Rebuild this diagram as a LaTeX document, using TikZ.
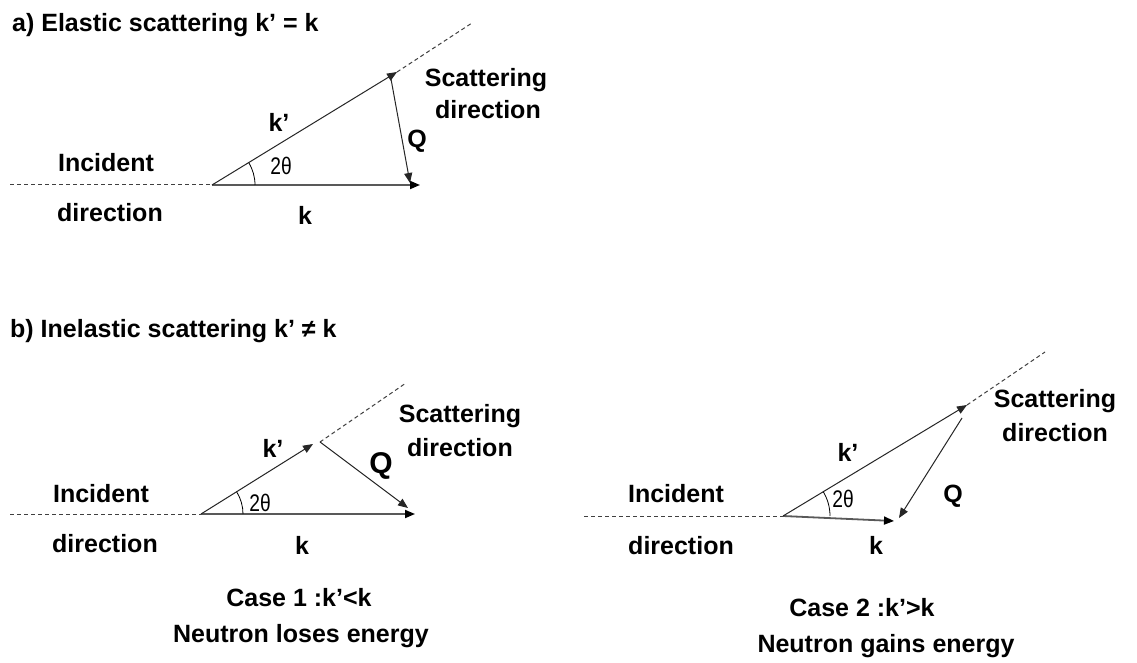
\documentclass[tikz,border=0pt]{standalone}
\usepackage{fontspec}
\setmainfont{Liberation Sans}
\usetikzlibrary{arrows.meta}

\begin{document}
\begin{tikzpicture}[x=1pt, y=-1pt, >={Triangle[length=10pt,width=8pt]},
  lbl/.style={font=\fontsize{25}{30}\selectfont\bfseries, anchor=base, inner sep=0pt},
  ang/.style={font=\fontsize{24}{28}\selectfont, anchor=base, inner sep=0pt, xscale=0.8},
  vec/.style={->, line width=1pt, draw=black!85},
  kvec/.style={-{Triangle[length=10pt,width=8pt,color=black]}, line width=1.8pt, draw=black!65},
  dir/.style={line width=1pt, draw=black!75, dash pattern=on 4pt off 3pt}]
  \fill[white] (0,0) rectangle (1137,663);
  \useasboundingbox (0,0) rectangle (1137,663);

  % a) elastic
  \node[lbl, anchor=base west] (ta) at (12,32) {a) Elastic scattering k’ = k};
  \coordinate (Oa) at (212,185);
  \coordinate (ka) at (420,185);
  \coordinate (kpa) at (397,72);
  \coordinate (ina) at (10,185);
  \coordinate (sca) at (472,23);
  \coordinate (Qa1) at (391,79);
  \coordinate (Qa2) at (410,183);
  \draw[dir] (ina) -- (Oa);
  \draw[dir] (kpa) -- (sca);
  \draw[kvec] (Oa) -- (ka);
  \draw[vec] (Oa) -- (kpa);
  \draw[vec] (Qa1) -- (Qa2);
  \draw[line width=0.8pt] (Oa) ++(43,0) arc[start angle=0, end angle=-31.4, radius=43];
  \node[lbl] (inca) at (106,172) {Incident};
  \node[lbl] (dira) at (110,222) {direction};
  \node[lbl] (la) at (305,224) {k};
  \node[lbl] (lpa) at (279,132) {k’};
  \node[lbl] (Qla) at (417,148) {Q};
  \node[ang] (tha) at (281,175) {2θ};
  \node[lbl] (scta) at (486,87) {Scattering};
  \node[lbl] (sdra) at (488,119) {direction};

  % b) inelastic
  \node[lbl, anchor=base west] (tb) at (10,337) {b) Inelastic scattering k’ ≠ k};

  % case 1
  \coordinate (Ob) at (201,514);
  \coordinate (kb) at (415,514);
  \coordinate (kpb) at (313,444);
  \coordinate (inb) at (10,514);
  \coordinate (scb1) at (320,442);
  \coordinate (scb2) at (406,383);
  \coordinate (Qb) at (408,508);
  \draw[dir] (inb) -- (Ob);
  \draw[dir] (scb1) -- (scb2);
  \draw[kvec] (Ob) -- (kb);
  \draw[vec] (Ob) -- (kpb);
  \draw[vec] (scb1) -- (Qb);
  \draw[line width=0.8pt] (Ob) ++(42,0) arc[start angle=0, end angle=-32, radius=42];
  \node[lbl] (incb) at (101,502) {Incident};
  \node[lbl] (dirb) at (105,552) {direction};
  \node[lbl] (lb) at (302,554) {k};
  \node[lbl] (lpb) at (273,457) {k’};
  \node[lbl, font=\fontsize{30}{34}\selectfont\bfseries] (Qlb) at (381,473) {Q};
  \node[ang] (thb) at (260,511) {2θ};
  \node[lbl] (sctb) at (460,422) {Scattering};
  \node[lbl] (sdrb) at (460,456) {direction};
  \node[lbl] (csb) at (299,606) {Case 1 :k’<k};
  \node[lbl] (enb) at (301,642) {Neutron loses energy};

  % case 2
  \coordinate (Oc) at (783,516);
  \coordinate (kc) at (894,521);
  \coordinate (kpc) at (967,405);
  \coordinate (inc) at (584,516);
  \coordinate (scc) at (1045,352);
  \coordinate (Qc1) at (962,418);
  \coordinate (Qc2) at (899,518);
  \draw[dir] (inc) -- (Oc);
  \draw[dir] (kpc) -- (scc);
  \draw[kvec] (Oc) -- (kc);
  \draw[vec] (Oc) -- (kpc);
  \draw[vec] (Qc1) -- (Qc2);
  \draw[line width=0.8pt] (Oc) ++(47,0) arc[start angle=0, end angle=-31.1, radius=47];
  \node[lbl] (incc) at (676,502) {Incident};
  \node[lbl] (dirc) at (681,554) {direction};
  \node[lbl] (lc) at (876,554) {k};
  \node[lbl] (lpc) at (848,461) {k’};
  \node[lbl] (Qlc) at (953,502) {Q};
  \node[ang] (thc) at (843,507) {2θ};
  \node[lbl] (sctc) at (1055,407) {Scattering};
  \node[lbl] (sdrc) at (1055,441) {direction};
  \node[lbl] (csc) at (862,616) {Case 2 :k’>k};
  \node[lbl] (enc) at (886,652) {Neutron gains energy};
\end{tikzpicture}
\end{document}
